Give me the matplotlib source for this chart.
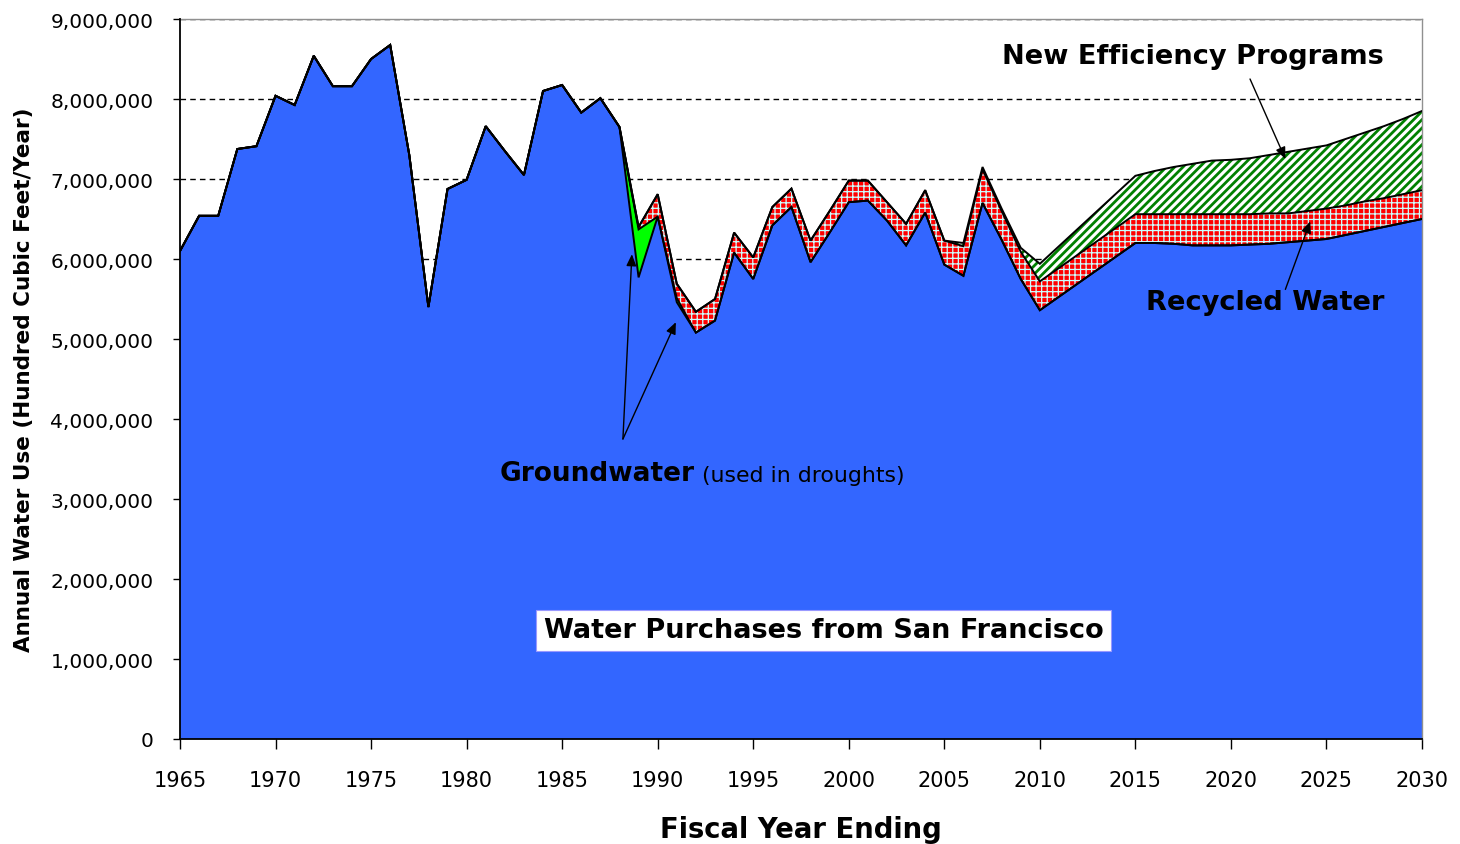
import matplotlib
matplotlib.use("Agg")
import matplotlib.pyplot as plt
from matplotlib.ticker import FuncFormatter, MultipleLocator
import numpy as np

# ---------------- data (values in units of 1,000,000 hundred cubic feet) -------------
years = [1965, 1966, 1967, 1968, 1969, 1970, 1971, 1972, 1973, 1974,
         1975, 1976, 1977, 1978, 1979, 1980, 1981, 1982, 1983, 1984,
         1985, 1986, 1987, 1988, 1989, 1990, 1991, 1992, 1993, 1994,
         1995, 1996, 1997, 1998, 1999, 2000, 2001, 2002, 2003, 2004,
         2005, 2006, 2007, 2008, 2009, 2010,
         2015, 2016, 2017, 2018, 2019, 2020, 2021, 2022, 2023, 2024,
         2025, 2026, 2027, 2028, 2029, 2030]

sf_purchases = [6.10, 6.54, 6.54, 7.375, 7.41, 8.04, 7.925, 8.54, 8.16, 8.16,
                8.50, 8.675, 7.30, 5.40, 6.875, 6.99, 7.66, 7.35, 7.05, 8.10,
                8.175, 7.83, 8.01, 7.65, 5.77, 6.53, 5.46, 5.08, 5.23, 6.08,
                5.75, 6.42, 6.65, 5.96, 6.33, 6.71, 6.73, 6.48, 6.17, 6.58,
                5.93, 5.79, 6.70, 6.24, 5.75, 5.36,
                6.20, 6.20, 6.19, 6.17, 6.17, 6.17, 6.18, 6.19, 6.21, 6.23,
                6.25, 6.30, 6.35, 6.40, 6.45, 6.50]

groundwater = [0, 0, 0, 0, 0, 0, 0, 0, 0, 0,
               0, 0, 0, 0, 0, 0, 0, 0, 0, 0,
               0, 0, 0, 0, 0.60, 0, 0.05, 0, 0, 0,
               0, 0, 0, 0, 0, 0, 0, 0, 0, 0,
               0, 0, 0, 0, 0, 0,
               0, 0, 0, 0, 0, 0, 0, 0, 0, 0,
               0, 0, 0, 0, 0, 0]

recycled = [0, 0, 0, 0, 0, 0, 0, 0, 0, 0,
            0, 0, 0, 0, 0, 0, 0, 0, 0, 0,
            0, 0, 0, 0, 0.03, 0.28, 0.18, 0.26, 0.27, 0.25,
            0.27, 0.23, 0.23, 0.27, 0.27, 0.27, 0.25, 0.23, 0.27, 0.28,
            0.30, 0.37, 0.42, 0.36, 0.34, 0.36,
            0.36, 0.36, 0.37, 0.39, 0.39, 0.39, 0.38, 0.38, 0.36, 0.37,
            0.38, 0.37, 0.37, 0.36, 0.36, 0.36]

efficiency = [0, 0, 0, 0, 0, 0, 0, 0, 0, 0,
              0, 0, 0, 0, 0, 0, 0, 0, 0, 0,
              0, 0, 0, 0, 0, 0, 0, 0, 0, 0,
              0, 0, 0, 0, 0, 0, 0, 0, 0, 0,
              0, 0.04, 0.03, 0.03, 0.05, 0.22,
              0.48, 0.54, 0.59, 0.63, 0.67, 0.68, 0.70, 0.73, 0.77, 0.78,
              0.79, 0.83, 0.86, 0.90, 0.94, 0.99]

x_ticks = [1965, 1970, 1975, 1980, 1985, 1990, 1995, 2000, 2005, 2010,
           2015, 2020, 2025, 2030]

SCALE = 1_000_000

# ---------------- figure -------------
plt.rcParams['font.family'] = ['DejaVu Sans']

fig = plt.figure(figsize=(14.6, 8.45), dpi=100)
ax = fig.add_axes([180/1460, 1 - 740/845, (1422-180)/1460, (740-20)/845])

x = np.array(years, dtype=float)
b = np.array(sf_purchases) * SCALE
g = b + np.array(groundwater) * SCALE
r = g + np.array(recycled) * SCALE
e = r + np.array(efficiency) * SCALE

blue = '#3366FF'

ax.fill_between(x, 0, b, facecolor=blue, edgecolor='none', linewidth=0, zorder=2)
ax.fill_between(x, b, g, facecolor='#00FF00', edgecolor='none', linewidth=0, zorder=2)

with plt.rc_context({'hatch.linewidth': 0.9}):
    ax.fill_between(x, g, r, facecolor='#FF0000', edgecolor='#CCFFFF',
                    hatch='+++', linewidth=0, zorder=2)
with plt.rc_context({'hatch.linewidth': 2.0}):
    ax.fill_between(x, r, e, facecolor='white', edgecolor='#008000',
                    hatch='////', linewidth=0, zorder=2)

for top in (b, g, r, e):
    ax.plot(x, top, color='black', linewidth=1.4, zorder=3, solid_joinstyle='miter')

# axes
ax.set_xlim(1965, 2030)
ax.set_ylim(0, 9 * SCALE)
ax.set_xticks(x_ticks)
ax.yaxis.set_major_locator(MultipleLocator(SCALE))
ax.yaxis.set_major_formatter(FuncFormatter(lambda v, p: f"{int(v):,}"))
ax.grid(axis='y', color='black', linestyle=(0, (4, 3)), linewidth=1.0, zorder=1)
ax.set_axisbelow(True)

for s in ('left', 'bottom'):
    ax.spines[s].set_color('black')
    ax.spines[s].set_linewidth(1.3)
    ax.spines[s].set_zorder(5)
for s in ('top', 'right'):
    ax.spines[s].set_color('#909090')
    ax.spines[s].set_linewidth(1.0)

ax.tick_params(axis='x', direction='out', length=7, width=1, pad=15, labelsize=15,
               colors='black')
ax.tick_params(axis='y', direction='out', length=5, width=1, pad=14, labelsize=14.5,
               colors='black')

ax.set_xlabel('Fiscal Year Ending', fontsize=19.8, fontweight='bold', labelpad=18)
ax.set_ylabel('Annual Water Use (Hundred Cubic Feet/Year)', fontsize=15.5,
              fontweight='bold', labelpad=12)

# annotations
ax.text(2018.0, 8.54 * SCALE, 'New Efficiency Programs', fontsize=19.6, fontweight='bold',
        ha='center', va='center', zorder=6)
ax.text(2021.8, 5.46 * SCALE, 'Recycled Water', fontsize=19.6, fontweight='bold',
        ha='center', va='center', zorder=6)

t1 = ax.text(1981.75, 3.32 * SCALE, 'Groundwater', fontsize=19, fontweight='bold',
             ha='left', va='center', zorder=6)
ax.annotate(' (used in droughts)', xycoords=t1, xy=(1, 0.5), xytext=(0, -1),
            textcoords='offset points', ha='left', va='center', fontsize=15.8, zorder=6)

ax.text(1998.7, 1.36 * SCALE, 'Water Purchases from San Francisco', fontsize=19.5,
        fontweight='bold', ha='center', va='center', zorder=6,
        bbox=dict(boxstyle='square,pad=0.28', facecolor='white', edgecolor='#9999FF',
                  linewidth=0.8))

arrow_kw = dict(arrowstyle='-|>,head_length=0.7,head_width=0.3', color='black',
                linewidth=1.0, shrinkA=0, shrinkB=0)
ax.annotate('', xy=(2022.85, 7.25 * SCALE), xytext=(2021.0, 8.25 * SCALE),
            arrowprops=arrow_kw, zorder=6)
ax.annotate('', xy=(2024.15, 6.47 * SCALE), xytext=(2022.85, 5.62 * SCALE),
            arrowprops=arrow_kw, zorder=6)
ax.annotate('', xy=(1988.65, 6.06 * SCALE), xytext=(1988.18, 3.75 * SCALE),
            arrowprops=arrow_kw, zorder=6)
ax.annotate('', xy=(1990.95, 5.21 * SCALE), xytext=(1988.18, 3.75 * SCALE),
            arrowprops=arrow_kw, zorder=6)

fig.savefig('out.png', dpi=100)
